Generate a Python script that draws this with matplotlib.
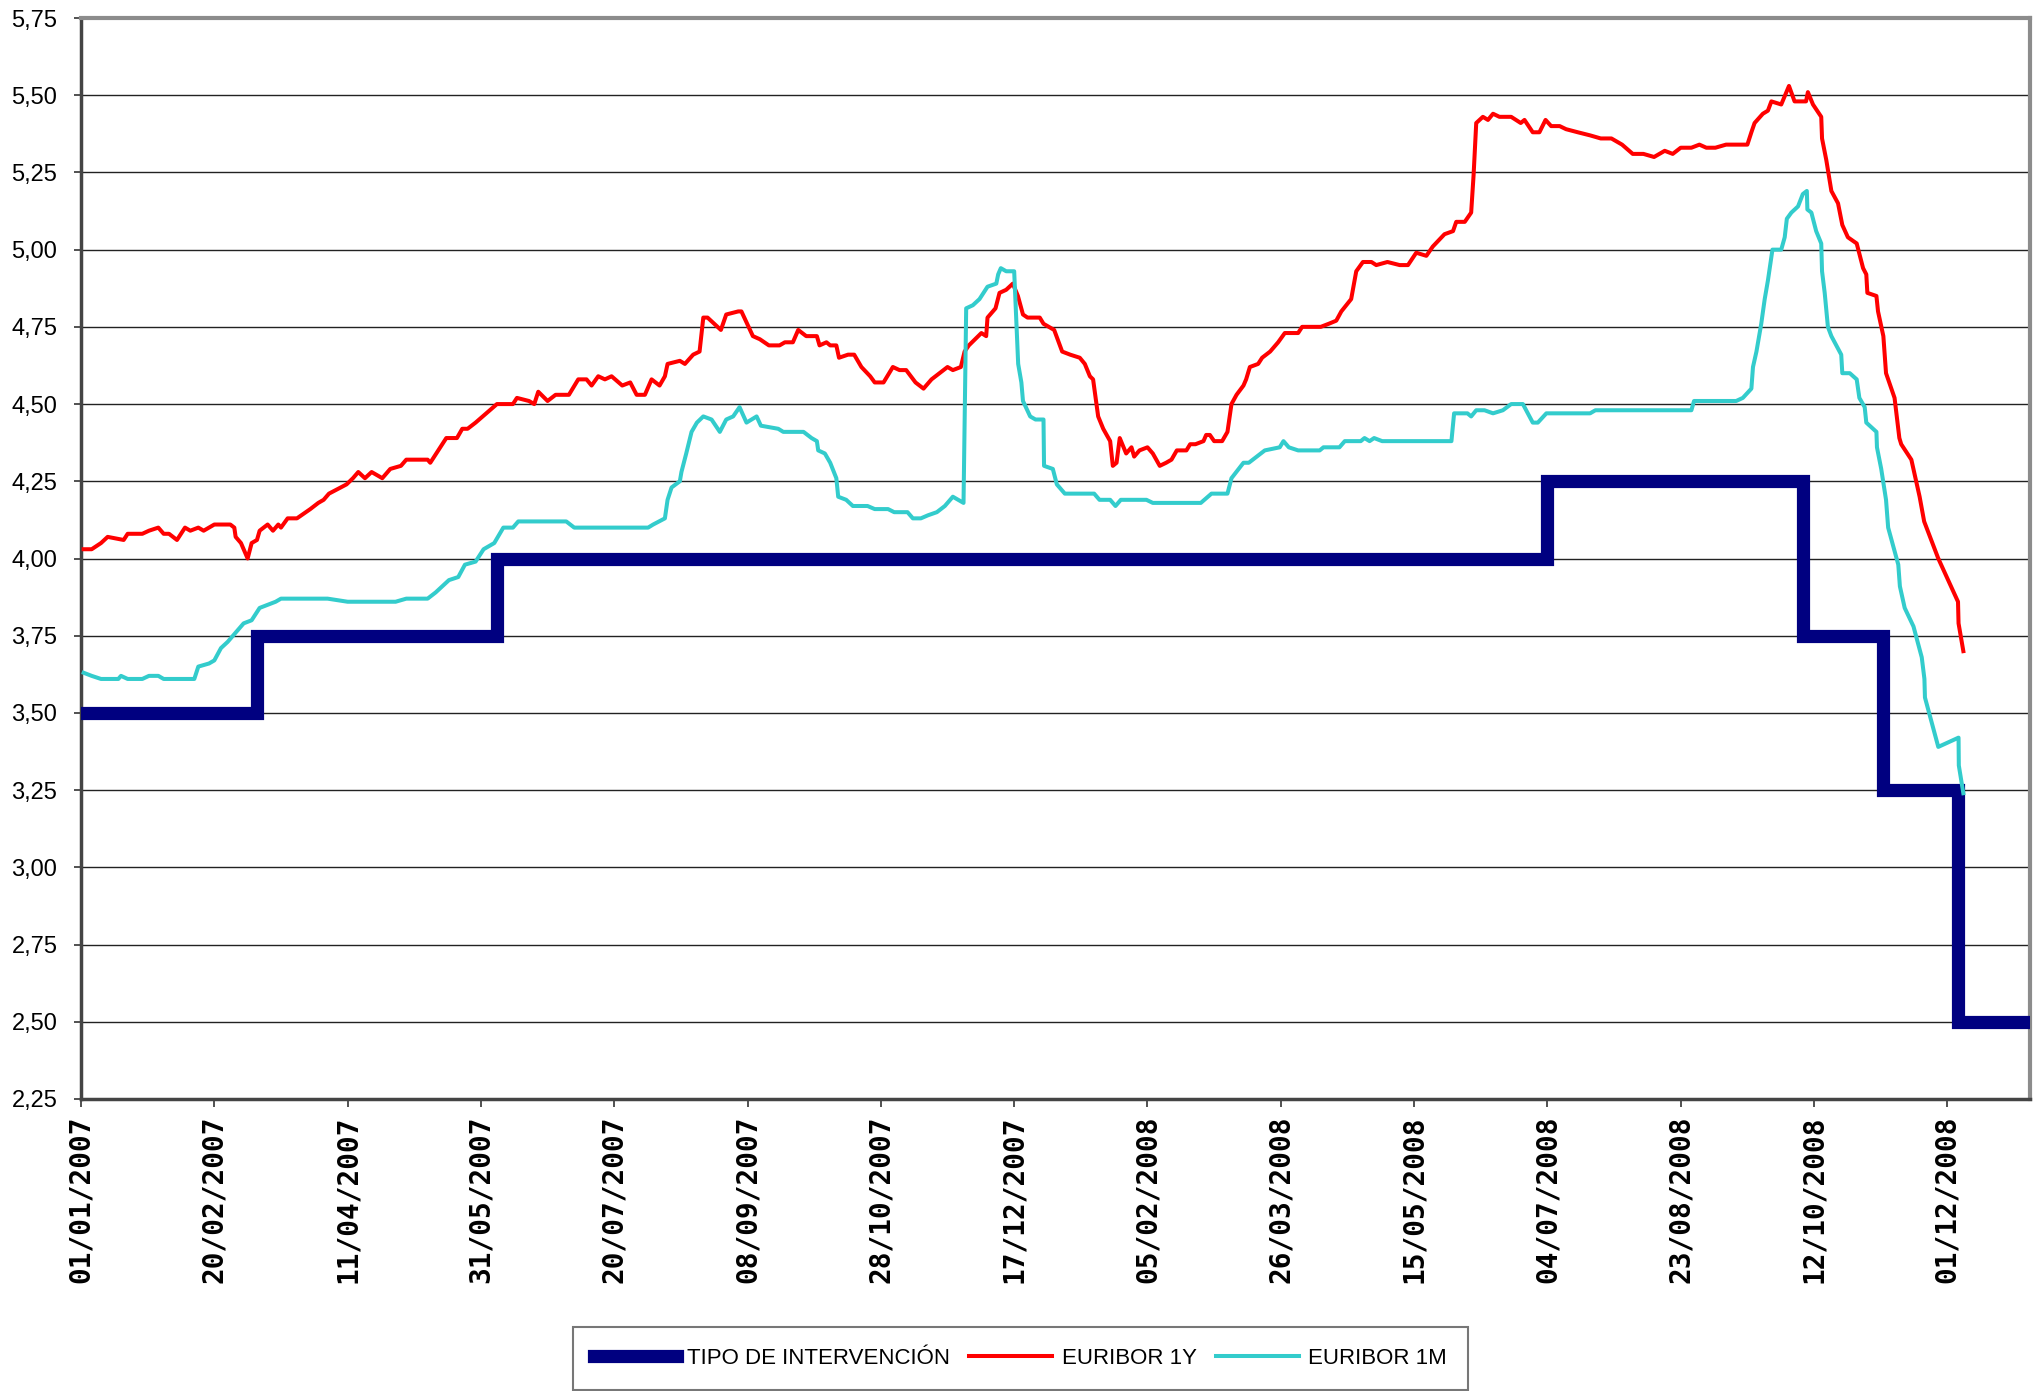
import numpy as np
import pandas as pd
import matplotlib
matplotlib.use("Agg")
import matplotlib.pyplot as plt
import matplotlib.dates as mdates
from matplotlib import font_manager

START = pd.Timestamp("2007-01-01")

# Tipo de intervención BCE (fecha de cambio -> nivel)
ecb_dates = ["2007-01-01", "2007-03-08", "2007-06-06", "2008-07-04",
             "2008-10-08", "2008-11-07", "2008-12-05", "2009-01-01"]
ecb_vals = [3.50, 3.75, 4.00, 4.25, 3.75, 3.25, 2.50, 2.50]

# Euribor 1 año: días desde 01/01/2007 y valor
eur1y_days = [1, 4, 7.5, 10, 16, 17.5, 23, 25.5, 29, 31, 33, 36, 39, 41, 44, 46, 50, 56, 57.5, 58,
              60, 62.5, 64, 66, 67, 70, 72, 74, 75, 77.5, 81, 86, 89, 91, 93, 99.6, 102, 104, 106.5, 109,
              113, 116, 120, 122, 130, 131, 134, 137, 141, 143, 145, 148, 152, 156, 162, 163.5, 168, 170,
              171.5, 175, 178, 183, 186.5, 189.6, 191.5, 194, 196.5, 199, 203, 206, 208.4, 211.5, 214,
              217, 219, 220, 224.6, 226.5, 229.6, 232, 233.4, 235, 240, 242, 246.5, 247.7, 252, 254.6,
              258, 262, 264, 267, 269, 272, 276, 277, 279.6, 281, 283.3, 284.3, 287.7, 290, 292.7, 296,
              297.7, 301, 304.5, 307, 309.5, 313, 316, 319, 322, 325, 327, 330, 331.4, 333, 337.7,
              339.5, 340, 343, 344.5, 347, 349.5, 351.4, 353.3, 355, 359.6, 361, 365, 368, 371, 374.6,
              376.5, 378.4, 379.6, 381.5, 383.4, 386, 387, 388.4, 389.6, 392, 394, 395, 397, 400, 402,
              404.6, 407, 409, 411, 414.6, 416, 418, 421, 422, 423.4, 425, 428, 430, 431.5, 433.4, 436,
              437, 438.4, 441.5, 443, 446, 449, 451.5, 456.5, 458, 465, 468, 470.8, 472.7, 476.4, 478.3,
              480.8, 484, 485.8, 490, 494.6, 497.7, 500.8, 504.6, 507, 511.4, 514.6, 515.8, 519, 521.4,
              522.3, 523.3, 525.8, 527.7, 529.6, 532, 536.4, 540, 541.4, 544.5, 547, 549.3, 551.4,
              554.6, 557, 561.4, 566, 570, 574, 578, 582, 586, 590, 594, 597, 600, 604, 607, 609.6,
              613, 617, 625, 626.5, 627.7, 630.8, 632.7, 634, 637.7, 640.6, 642.7, 647, 647.7, 649.6,
              652.7, 653, 654.6, 656.5, 659, 660.6, 662.7, 666, 668.4, 669.6, 670, 673.4, 674, 676,
              677, 680.2, 682, 682.7, 686.5, 689.6, 691.3, 696.6, 704, 704.2, 706]
eur1y_vals = [4.03, 4.03, 4.05, 4.07, 4.06, 4.08, 4.08, 4.09, 4.10, 4.08, 4.08, 4.06, 4.10, 4.09, 4.10, 4.09, 4.11, 4.11, 4.10, 4.07,
              4.05, 4.00, 4.05, 4.06, 4.09, 4.11, 4.09, 4.11, 4.10, 4.13, 4.13, 4.16, 4.18, 4.19, 4.21, 4.24, 4.26, 4.28, 4.26, 4.28,
              4.26, 4.29, 4.30, 4.32, 4.32, 4.31, 4.35, 4.39, 4.39, 4.42, 4.42, 4.44, 4.47, 4.50, 4.50, 4.52, 4.51, 4.50,
              4.54, 4.51, 4.53, 4.53, 4.58, 4.58, 4.56, 4.59, 4.58, 4.59, 4.56, 4.57, 4.53, 4.53, 4.58,
              4.56, 4.59, 4.63, 4.64, 4.63, 4.66, 4.67, 4.78, 4.78, 4.74, 4.79, 4.80, 4.80, 4.72, 4.71,
              4.69, 4.69, 4.70, 4.70, 4.74, 4.72, 4.72, 4.69, 4.70, 4.69, 4.69, 4.65, 4.66, 4.66, 4.62, 4.59,
              4.57, 4.57, 4.62, 4.61, 4.61, 4.57, 4.55, 4.58, 4.60, 4.62, 4.61, 4.62, 4.67, 4.69, 4.73,
              4.72, 4.78, 4.81, 4.86, 4.87, 4.89, 4.85, 4.79, 4.78, 4.78, 4.76, 4.74, 4.67, 4.66, 4.65,
              4.63, 4.59, 4.58, 4.46, 4.42, 4.38, 4.30, 4.31, 4.39, 4.34, 4.36, 4.33, 4.35, 4.36, 4.34,
              4.30, 4.31, 4.32, 4.35, 4.35, 4.37, 4.37, 4.38, 4.40, 4.40, 4.38, 4.38, 4.41, 4.50, 4.53, 4.56,
              4.58, 4.62, 4.63, 4.65, 4.67, 4.70, 4.73, 4.73, 4.75, 4.75, 4.76, 4.77, 4.80, 4.84, 4.93,
              4.96, 4.96, 4.95, 4.96, 4.95, 4.95, 4.99, 4.98, 5.01, 5.05, 5.06, 5.09, 5.09, 5.12,
              5.24, 5.41, 5.43, 5.42, 5.44, 5.43, 5.43, 5.41, 5.42, 5.38, 5.38, 5.42, 5.40,
              5.40, 5.39, 5.38, 5.37, 5.36, 5.36, 5.34, 5.31, 5.31, 5.30, 5.32, 5.31, 5.33, 5.33, 5.34, 5.33,
              5.33, 5.34, 5.34, 5.38, 5.41, 5.44, 5.45, 5.48, 5.47, 5.53, 5.48, 5.48, 5.51, 5.47,
              5.43, 5.36, 5.29, 5.19, 5.15, 5.08, 5.04, 5.02, 4.94, 4.92, 4.86, 4.85, 4.80, 4.72,
              4.60, 4.52, 4.39, 4.37, 4.32, 4.20, 4.12, 4.00, 3.86, 3.79, 3.70]

# Euribor 1 mes
eur1m_days = [1, 4, 7.5, 11, 14, 15, 17.5, 23, 25.5, 29, 31, 42.5, 44, 48, 50, 52.5, 55, 59, 61, 64,
              67, 70, 73, 75, 92.5, 100, 118, 122, 130, 133, 138, 141.5, 144, 148, 151, 155, 158.4, 162,
              164, 182, 185, 212.7, 214.6, 219, 220, 221.5, 224.6, 225.2, 227, 229, 231, 233.4, 236.5,
              239.6, 242, 244.6, 247, 249.6, 253.4, 255, 261.5, 263.4, 271, 274, 276, 276.5, 279, 281,
              283.3, 284, 287, 289.5, 295, 297.7, 302.7, 305, 310, 312, 315, 317.7, 321, 324, 327, 329,
              331, 332, 334.5, 337, 340, 343.3, 344, 345, 347, 350, 351.5, 352.7, 353.3, 356, 358, 361,
              361.2, 364.5, 366, 369, 374.6, 380, 382, 386, 388, 390, 399.6, 402, 420, 424, 430, 431.5,
              436, 438, 444, 449.6, 451, 453, 456.5, 464.6, 466, 468, 472, 474, 480, 481.4, 483.3, 485,
              488, 514, 515, 520, 521.4, 523.3, 526.4, 529.6, 533.3, 536.4, 540.8, 544.5, 546.4, 549.6,
              562, 566, 568, 604, 605, 607, 620.8, 623.3, 626.5, 627.1, 628.4, 630.2, 631.5, 632.7,
              634.4, 637.7, 639, 639.8, 641.5, 644, 645.8, 647.3, 647.5, 649, 650.8, 652.7, 653, 654,
              655.2, 656.5, 660.2, 660.6, 663.4, 666, 667, 669, 669.6, 673.4, 673.6, 675.2, 677, 677.8,
              681.6, 682.2, 684, 687.3, 690.4, 691.4, 691.6, 696.6, 704.2, 704.3, 706]
eur1m_vals = [3.63, 3.62, 3.61, 3.61, 3.61, 3.62, 3.61, 3.61, 3.62, 3.62, 3.61, 3.61, 3.65, 3.66, 3.67, 3.71, 3.73, 3.77, 3.79, 3.80,
              3.84, 3.85, 3.86, 3.87, 3.87, 3.86, 3.86, 3.87, 3.87, 3.89, 3.93, 3.94, 3.98, 3.99, 4.03, 4.05, 4.10, 4.10,
              4.12, 4.12, 4.10, 4.10, 4.11, 4.13, 4.19, 4.23, 4.25, 4.28, 4.34, 4.41, 4.44, 4.46, 4.45,
              4.41, 4.45, 4.46, 4.49, 4.44, 4.46, 4.43, 4.42, 4.41, 4.41, 4.39, 4.38, 4.35, 4.34, 4.31,
              4.26, 4.20, 4.19, 4.17, 4.17, 4.16, 4.16, 4.15, 4.15, 4.13, 4.13, 4.14, 4.15, 4.17, 4.20, 4.19,
              4.18, 4.81, 4.82, 4.84, 4.88, 4.89, 4.92, 4.94, 4.93, 4.93, 4.63, 4.57, 4.51, 4.46, 4.45, 4.45,
              4.30, 4.29, 4.24, 4.21, 4.21, 4.21, 4.19, 4.19, 4.17, 4.19, 4.19, 4.18, 4.18, 4.21, 4.21, 4.26,
              4.31, 4.31, 4.35, 4.36, 4.38, 4.36, 4.35, 4.35, 4.36, 4.36, 4.36, 4.38, 4.38, 4.39, 4.38, 4.39,
              4.38, 4.38, 4.47, 4.47, 4.46, 4.48, 4.48, 4.47, 4.48, 4.50, 4.50, 4.44, 4.44, 4.47,
              4.47, 4.47, 4.48, 4.48, 4.51, 4.51, 4.51, 4.52, 4.55, 4.62, 4.67, 4.76, 4.84, 4.90,
              5.00, 5.00, 5.04, 5.10, 5.12, 5.14, 5.18, 5.19, 5.13, 5.12, 5.06, 5.02, 4.93, 4.86,
              4.75, 4.72, 4.66, 4.60, 4.60, 4.58, 4.52, 4.49, 4.44, 4.41, 4.36, 4.29, 4.19, 4.10,
              3.98, 3.91, 3.84, 3.78, 3.68, 3.61, 3.55, 3.39, 3.42, 3.33, 3.24]

y_ticks = [2.25, 2.50, 2.75, 3.00, 3.25, 3.50, 3.75, 4.00, 4.25, 4.50, 4.75, 5.00, 5.25, 5.50, 5.75]
x_ticks = pd.date_range("2007-01-01", periods=15, freq="50D")
labels = ["TIPO DE INTERVENCIÓN", "EURIBOR 1Y", "EURIBOR 1M"]

available = {f.name for f in font_manager.fontManager.ttflist}
narrow = "Liberation Sans Narrow" if "Liberation Sans Narrow" in available else "Liberation Sans"
legend_size = 20 if narrow == "Liberation Sans Narrow" else 16


def to_dates(days):
    return START + pd.to_timedelta(np.array(days, dtype=float), unit="D")


fig = plt.figure(figsize=(20.39, 13.91), dpi=100)
ax = fig.add_axes([81 / 2039, 1 - 1099 / 1391, (2030 - 81) / 2039, (1099 - 18) / 1391])

ax.plot(pd.to_datetime(ecb_dates), ecb_vals, drawstyle="steps-post", color="#000080",
        lw=9.5, solid_joinstyle="miter", label=labels[0], zorder=3)
ax.plot(to_dates(eur1y_days), eur1y_vals, color="#FF0000", lw=2.9, label=labels[1], zorder=4)
ax.plot(to_dates(eur1m_days), eur1m_vals, color="#33CCCC", lw=2.9, label=labels[2], zorder=5)

ax.set_xlim(pd.Timestamp("2007-01-01"), pd.Timestamp("2009-01-01"))
ax.set_ylim(2.25, 5.75)
ax.set_yticks(y_ticks)
ax.set_yticklabels([f"{v:.2f}".replace(".", ",") for v in y_ticks],
                   fontfamily="Liberation Sans", fontsize=17)
ax.set_xticks(x_ticks)
ax.xaxis.set_major_formatter(mdates.DateFormatter("%d/%m/%Y"))
for lab in ax.get_xticklabels():
    lab.set_rotation(90)
    lab.set_fontfamily("DejaVu Sans Mono")
    lab.set_fontweight("bold")
    lab.set_fontsize(20)

ax.tick_params(axis="y", length=5, width=1.2, pad=12, color="#333333")
ax.tick_params(axis="x", length=6, width=1.2, pad=6, color="#333333")
ax.grid(axis="y", color="#222222", lw=1.0)
ax.set_axisbelow(True)

ax.spines["left"].set_color("#444444")
ax.spines["left"].set_linewidth(2.5)
ax.spines["bottom"].set_color("#444444")
ax.spines["bottom"].set_linewidth(2.5)
ax.spines["top"].set_color("#8c8c8c")
ax.spines["top"].set_linewidth(3)
ax.spines["right"].set_color("#8c8c8c")
ax.spines["right"].set_linewidth(3)

# Leyenda abajo, en una fila
scale = 20 / legend_size
leg = fig.legend(loc="upper left", bbox_to_anchor=(573 / 2039, 1 - 1327 / 1391),
                 ncol=3, frameon=True, fancybox=False, borderpad=0.95,
                 handlelength=3.0 * scale, handletextpad=0.33 * scale, columnspacing=0.7 * scale,
                 borderaxespad=0, prop={"family": narrow, "size": legend_size})
leg.get_frame().set_edgecolor("#555555")
leg.get_frame().set_linewidth(1.5)

fig.savefig("out.png", dpi=100)
